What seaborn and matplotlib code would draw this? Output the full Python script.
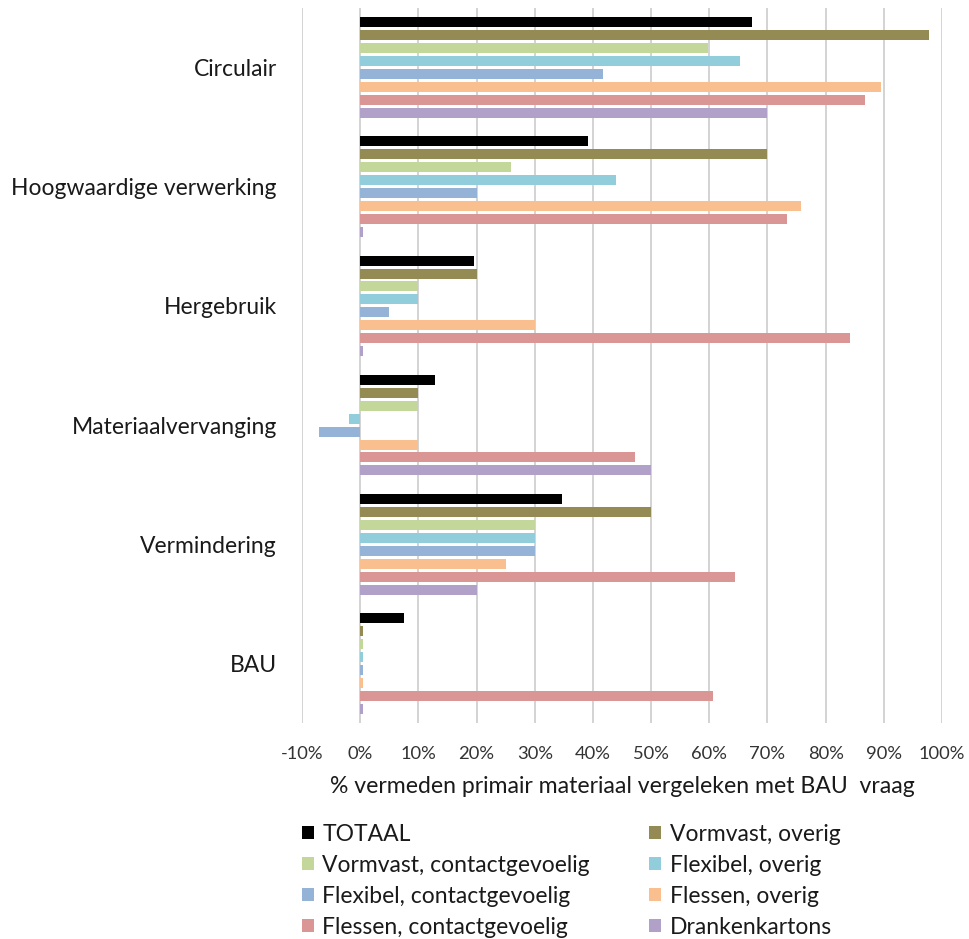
import numpy as np
import pandas as pd
import matplotlib
matplotlib.use("Agg")
import matplotlib.pyplot as plt
import matplotlib.ticker as mticker
import seaborn as sns

# ── Data (% vermeden primair materiaal t.o.v. BAU vraag) ─────────────────────
scenarios = ["Circulair", "Hoogwaardige verwerking", "Hergebruik",
             "Materiaalvervanging", "Vermindering", "BAU"]
streams = ["TOTAAL", "Vormvast, overig", "Vormvast, contactgevoelig",
           "Flexibel, overig", "Flexibel, contactgevoelig", "Flessen, overig",
           "Flessen, contactgevoelig", "Drankenkartons"]

totaal = [67.3, 39.2, 19.5, 12.9, 34.7, 7.6]
vormvast_overig = [97.8, 70.0, 20.0, 10.0, 50.0, 0.4]
vormvast_contact = [59.8, 26.0, 10.0, 10.0, 30.0, 0.4]
flexibel_overig = [65.3, 44.0, 10.0, -2.0, 30.0, 0.4]
flexibel_contact = [41.8, 20.0, 5.0, -7.0, 30.0, 0.4]
flessen_overig = [89.5, 75.7, 30.0, 10.0, 25.0, 0.4]
flessen_contact = [86.8, 73.3, 84.2, 47.2, 64.4, 60.6]
drankenkartons = [70.0, 0.4, 0.4, 50.0, 20.0, 0.4]

colors = ["#000000", "#948A54", "#C4D79B", "#92CDDC",
          "#95B3D7", "#FABF8F", "#DA9694", "#B1A0C7"]

series = [totaal, vormvast_overig, vormvast_contact, flexibel_overig,
          flexibel_contact, flessen_overig, flessen_contact, drankenkartons]

df = pd.DataFrame(
    [(sc, st, v) for st, vals in zip(streams, series) for sc, v in zip(scenarios, vals)],
    columns=["scenario", "stroom", "pct"],
)

sns.set_style("white")
plt.rcParams["font.family"] = ["Lato", "DejaVu Sans"]
plt.rcParams["text.color"] = "#1a1a1a"

fig = plt.figure(figsize=(9.70, 9.39), dpi=100)
ax = fig.add_axes([302 / 970, 1 - 723 / 939, 640 / 970, 715 / 939])

sns.barplot(
    data=df, x="pct", y="scenario", hue="stroom",
    order=scenarios, hue_order=streams, palette=colors, saturation=1,
    orient="h", width=0.87, gap=0.23, errorbar=None,
    linewidth=0, ax=ax,
)

ax.set_xlim(-10, 100)
ax.set_ylim(5.5, -0.5)
ax.set_xticks(np.arange(-10, 101, 10))
ax.xaxis.set_major_formatter(mticker.FuncFormatter(lambda v, p: f"{v:.0f}%"))
ax.tick_params(axis="x", length=0, pad=16.5, labelsize=13.2, labelcolor="#333333")
ax.tick_params(axis="y", length=0, pad=18, labelsize=16.5, labelcolor="#1a1a1a")
ax.set_ylabel("")
ax.set_xlabel("% vermeden primair materiaal vergeleken met BAU  vraag",
              fontsize=16.6, labelpad=10, color="#1a1a1a")
ax.xaxis.grid(True, color="#d0d0d0", linewidth=1.3)
ax.yaxis.grid(False)
ax.set_axisbelow(True)
for s in ax.spines.values():
    s.set_visible(False)

handles, labels = ax.get_legend_handles_labels()
ax.get_legend().remove()
idx = [0, 2, 4, 6, 1, 3, 5, 7]
fig.legend(
    [handles[i] for i in idx], [labels[i] for i in idx],
    loc="upper left", bbox_to_anchor=(281 / 970, 1 - 803 / 939),
    ncol=2, frameon=False, fontsize=16.5,
    handlelength=0.52, handleheight=0.52, handletextpad=0.38,
    labelspacing=0.44, columnspacing=2.6,
)

fig.savefig("out.png", dpi=100)
